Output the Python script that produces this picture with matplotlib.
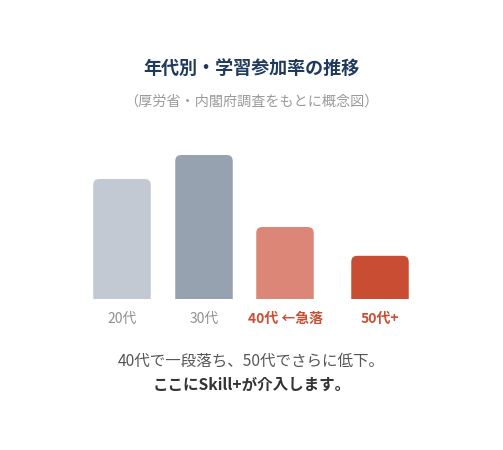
import matplotlib.pyplot as plt
from matplotlib.patches import FancyBboxPatch

plt.rcParams['font.family'] = ['Noto Sans CJK JP', 'DejaVu Sans']

# data (conceptual participation rate by age group)
categories = ['20代', '30代', '40代 ←急落', '50代+']
values = [50, 60, 30, 18]
bar_colors = ['#c3c9d3', '#96a2b0', '#db8676', '#c94d33']
label_colors = ['#8f8f8f', '#8f8f8f', '#c94d33', '#c94d33']
label_bold = [False, False, True, True]

# layout: bar centres in pixel units across the 503px figure
centers = [122, 204, 285, 380]
bar_w = 57.5
px_per_unit = 2.4
radius = 6

W, H = 503, 450
fig = plt.figure(figsize=(W / 100, H / 100), dpi=100)
fig.patch.set_facecolor('white')

base_y = 299
ymax = 65
ax = fig.add_axes([0, (H - base_y) / H, 1, ymax * px_per_unit / H])
ax.set_xlim(0, W)
ax.set_ylim(0, ymax)
ax.axis('off')

aspect = 1 / px_per_unit
for c, v, col in zip(centers, values, bar_colors):
    p = FancyBboxPatch((c - bar_w / 2, -10), bar_w, v + 10,
                       boxstyle=f'round,pad=0,rounding_size={radius}',
                       mutation_aspect=aspect, fc=col, ec='none')
    ax.add_patch(p)

for c, lab, lc, b in zip(centers, categories, label_colors, label_bold):
    fig.text(c / W, 1 - 319 / H, lab, ha='center', va='center', fontsize=10,
             color=lc, fontweight='bold' if b else 'normal')

fig.text(0.5, 1 - 68 / H, '年代別・学習参加率の推移', ha='center', va='center',
         fontsize=13, fontweight='bold', color='#1f3a5c')
fig.text(0.5, 1 - 102 / H, '（厚労省・内閣府調査をもとに概念図）', ha='center',
         va='center', fontsize=10.2, color='#9a9a9a')

fig.text(0.5, 1 - 361 / H, '40代で一段落ち、50代でさらに低下。', ha='center',
         va='center', fontsize=11.2, color='#555555')
fig.text(0.5, 1 - 385 / H, 'ここにSkill+が介入します。', ha='center',
         va='center', fontsize=11.2, fontweight='bold', color='#333333')

fig.savefig('out.png', dpi=100)
